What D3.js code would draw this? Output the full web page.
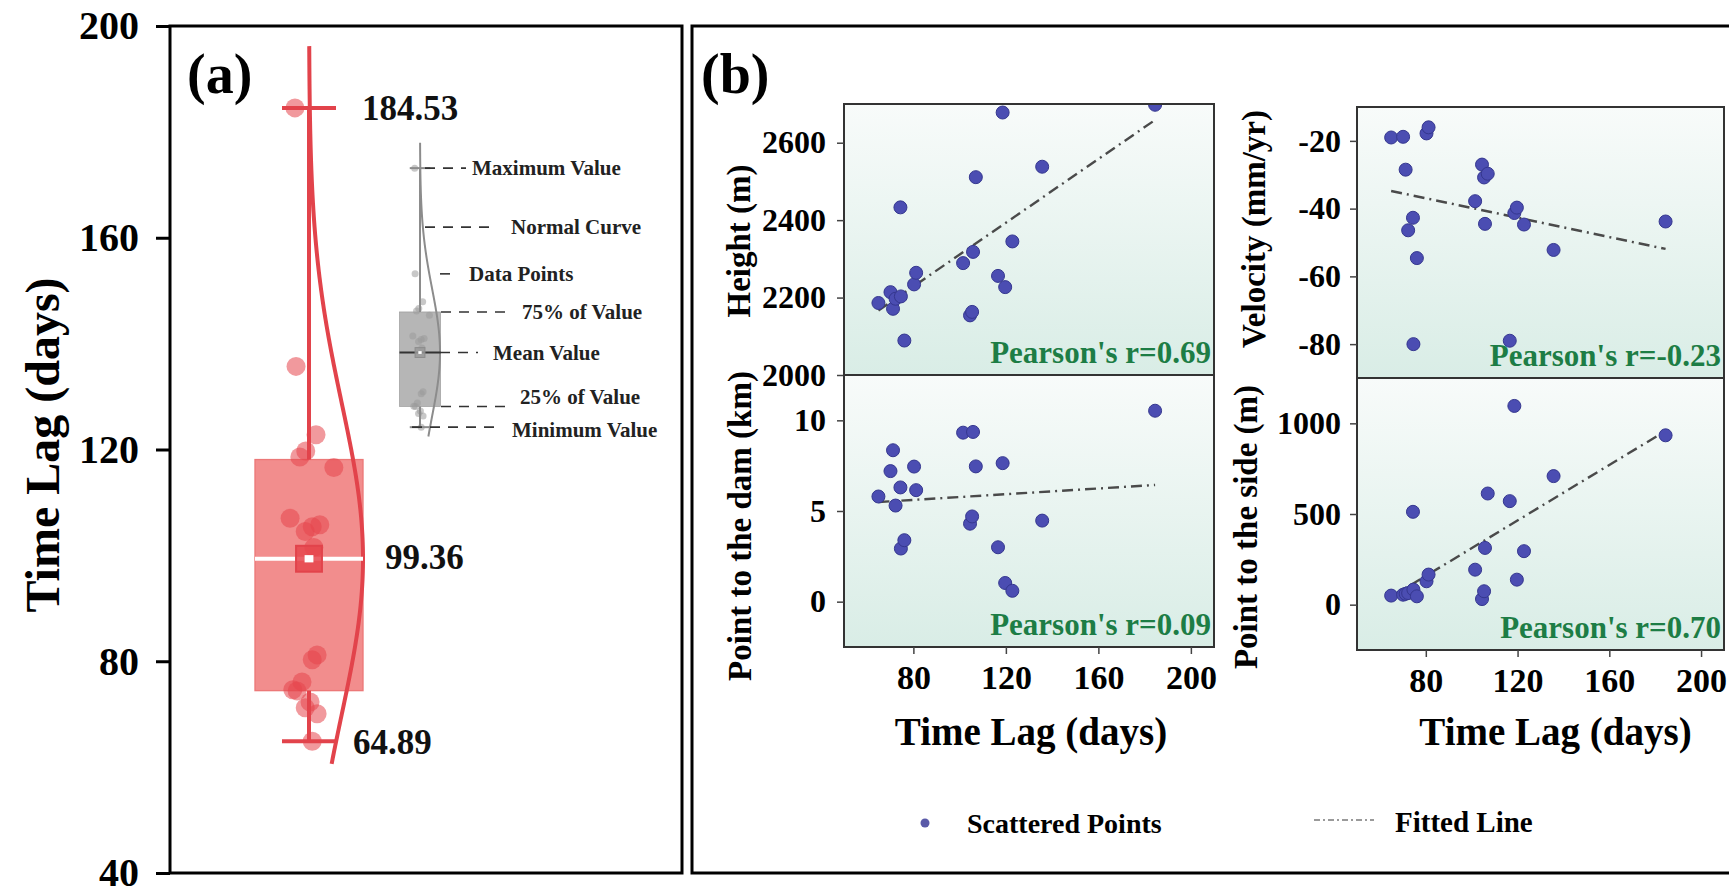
<!DOCTYPE html>
<html>
<head>
<meta charset="utf-8">
<script src="https://cdn.jsdelivr.net/npm/d3@7"></script>
<style>
  body { margin: 0; background: #fff; }
  svg text { font-family: "Liberation Serif", "Times New Roman", serif; font-weight: bold; }
</style>
</head>
<body>
<svg id="chart" width="1729" height="889"></svg>
<script>
// ---- data (20 monitoring points) ----
const timeLag  = [64.89, 70.1, 71.2, 72.3, 74.4, 74.6, 76.1, 80.3, 81.2, 101.5, 104.5, 105.4, 105.8, 107.0, 116.6, 118.6, 119.7, 122.8, 135.7, 184.53];
const heightM  = [2186, 2214, 2171, 2197, 2433, 2203, 2089, 2234, 2264, 2289, 2154, 2163, 2318, 2511, 2256, 2678, 2227, 2345, 2538, 2698];
const damKm    = [5.8, 7.2, 8.35, 5.3, 6.3, 2.93, 3.39, 7.45, 6.15, 9.32, 4.3, 4.7, 9.36, 7.46, 3.0, 7.64, 1.03, 0.6, 4.47, 10.53];
const velocity = [-19.0, -18.8, -28.5, -46.4, -42.7, -80.0, -54.6, -17.8, -16.0, -37.8, -27.0, -30.8, -44.5, -29.7, -79.0, -41.3, -39.7, -44.7, -52.2, -43.8];
const sideM    = [50, 55, 60, 64, 512, 83, 46, 129, 166, 193, 31, 74, 313, 613, 571, 1096, 138, 295, 709, 934];
// horizontal scatter of the raw points in the box plot, in box half-widths
const jitter   = [0.06, 0.15, -0.07, 0.02, -0.22, -0.30, -0.13, 0.06, 0.15, 0.09, -0.07, 0.06, 0.20, -0.35, 0.46, -0.17, -0.06, 0.13, -0.24, -0.26];
const curveRange = [60.6, 196.2];

const ticksA = [40, 80, 120, 160, 200];
const ticksX = [80, 120, 160, 200];
const xDomain = [50, 210];
const yTitles = ["Height (m)", "Point to the dam (km)", "Velocity (mm/yr)", "Point to the side (m)"];
const yDomains = [[2000, 2700], [-2.5, 12.5], [-90, -10], [-250, 1250]];
const yTicks = [[2000, 2200, 2400, 2600], [0, 5, 10], [-80, -60, -40, -20], [0, 500, 1000]];
const pearsonLabels = ["Pearson's r=0.69", "Pearson's r=0.09", "Pearson's r=-0.23", "Pearson's r=0.70"];
const insetLabels = ["Maximum Value", "Normal Curve", "Data Points", "75% of Value", "Mean Value", "25% of Value", "Minimum Value"];
const legendLabels = ["Scattered Points", "Fitted Line"];

const svg = d3.select("#chart");
const RED = "#e2434b";
const plain = d => String(d);   // no thousands comma, ascii minus

// ---------------- panel (a) ----------------
const fa = {x0: 170, y0: 26, x1: 682, y1: 873};
const yA = d3.scaleLinear().domain([40, 200]).range([fa.y1, fa.y0]);

function quart(arr, p) {           // (n+1)p rule, as Origin does
  const s = arr.slice().sort(d3.ascending);
  const h = (s.length + 1) * p - 1, lo = Math.floor(h);
  return s[lo] + (h - lo) * (s[lo + 1] - s[lo]);
}
const stats = {
  min: d3.min(timeLag), max: d3.max(timeLag), mean: d3.mean(timeLag),
  q1: quart(timeLag, 0.25), q3: quart(timeLag, 0.75), sd: d3.deviation(timeLag)
};

function drawBox(g, yS, o) {
  g.append("rect")
    .attr("x", o.cx - o.hw).attr("y", yS(stats.q3))
    .attr("width", 2 * o.hw).attr("height", yS(stats.q1) - yS(stats.q3))
    .attr("fill", o.fill).attr("stroke", o.edge).attr("stroke-width", o.lw / 3);
  g.selectAll("circle.pt").data(timeLag).enter().append("circle")
    .attr("class", "pt")
    .attr("cx", (d, i) => o.cx + jitter[i] * o.hw)
    .attr("cy", d => yS(d))
    .attr("r", o.r)
    .attr("fill", o.pt).attr("fill-opacity", 0.55);
  const seg = [[stats.max, stats.q3], [stats.q1, stats.min]];
  seg.forEach(s => g.append("line").attr("x1", o.cx).attr("x2", o.cx)
    .attr("y1", yS(s[0])).attr("y2", yS(s[1])).attr("stroke", o.line).attr("stroke-width", o.lw));
  [stats.max, stats.min].forEach(v => g.append("line")
    .attr("x1", o.cx - o.hw / 2).attr("x2", o.cx + o.hw / 2)
    .attr("y1", yS(v)).attr("y2", yS(v)).attr("stroke", o.line).attr("stroke-width", o.lw));
  // normal curve (half violin) from mean / sd of the data
  const pdf = v => Math.exp(-0.5 * ((v - stats.mean) / stats.sd) ** 2);
  const vs = d3.range(curveRange[0], curveRange[1], 0.5).concat([curveRange[1]]);
  g.append("path")
    .attr("d", d3.line().x(v => o.cx + o.bulge * pdf(v)).y(v => yS(v))(vs))
    .attr("fill", "none").attr("stroke", o.line).attr("stroke-width", o.lw);
  g.append("line").attr("x1", o.cx - o.hw).attr("x2", o.cx + o.hw)
    .attr("y1", yS(stats.mean)).attr("y2", yS(stats.mean))
    .attr("stroke", o.meanLine).attr("stroke-width", o.lw);
  const sq = o.hw * 0.48;
  g.append("rect").attr("x", o.cx - sq / 2).attr("y", yS(stats.mean) - sq / 2)
    .attr("width", sq).attr("height", sq)
    .attr("fill", o.pt).attr("fill-opacity", 0.85).attr("stroke", o.line).attr("stroke-width", o.lw / 2);
  g.append("rect").attr("x", o.cx - sq * 0.17).attr("y", yS(stats.mean) - sq * 0.14)
    .attr("width", sq * 0.34).attr("height", sq * 0.28).attr("fill", "#fff");
}

const gA = svg.append("g");
drawBox(gA, yA, {cx: 309, hw: 54, bulge: 54, r: 9.5, lw: 4,
  fill: "#f28d8d", edge: "#ec7878", pt: "#e6454c", line: RED, meanLine: "#fff"});

// value labels
[[stats.max, 362, 0], [stats.mean, 385, -2], [stats.min, 353, 1]].forEach(d => {
  gA.append("text").attr("x", d[1]).attr("y", yA(d[0]) + d[2]).attr("dy", "0.35em")
    .attr("font-size", 35).attr("fill", "#111").text(d[0].toFixed(2));
});

// inset explanation (same plot, shrunk, grey)
const yIn = d3.scaleLinear().domain(yA.domain()).range(yA.range().map(p => 124 + 0.409 * p));
const gIn = svg.append("g");
drawBox(gIn, yIn, {cx: 420, hw: 20.5, bulge: 20, r: 3.5, lw: 2,
  fill: "#b6b6b6", edge: "#999", pt: "#9a9a9a", line: "#8c8c8c", meanLine: "#333"});
const insetRows = [
  {v: stats.max, x0: 425, x1: 466, tx: 472, dy: 0},
  {v: 157.3, x0: 425, x1: 492, tx: 511, dy: 0},
  {v: 135.7, x0: 440, x1: 457, tx: 469, dy: 0},
  {v: stats.q3, x0: 441, x1: 508, tx: 522, dy: 0},
  {v: stats.mean, x0: 440, x1: 478, tx: 493, dy: 0},
  {v: stats.q1, x0: 441, x1: 507, tx: 520, dy: -10},
  {v: stats.min, x0: 412, x1: 497, tx: 512, dy: 2}
];
insetRows.forEach((r, i) => {
  gIn.append("line").attr("x1", r.x0).attr("x2", r.x1).attr("y1", yIn(r.v)).attr("y2", yIn(r.v))
    .attr("stroke", "#333").attr("stroke-width", 1.6).attr("stroke-dasharray", "10,8");
  gIn.append("text").attr("x", r.tx).attr("y", yIn(r.v) + r.dy).attr("dy", "0.35em")
    .attr("font-size", 21).attr("fill", "#222").text(insetLabels[i]);
});

// axis + frame
const axA = svg.append("g").attr("transform", `translate(${fa.x0},0)`)
  .call(d3.axisLeft(yA).tickValues(ticksA).tickFormat(plain).tickSize(14).tickPadding(17));
axA.select(".domain").remove();
axA.selectAll(".tick line").attr("stroke", "#000").attr("stroke-width", 3);
axA.selectAll(".tick text").attr("font-size", 40).attr("fill", "#000")
  .style("font-family", '"Liberation Serif", serif');
svg.append("rect").attr("x", fa.x0).attr("y", fa.y0)
  .attr("width", fa.x1 - fa.x0).attr("height", fa.y1 - fa.y0)
  .attr("fill", "none").attr("stroke", "#000").attr("stroke-width", 3);
svg.append("text").attr("transform", `translate(45,445) rotate(-90)`).attr("dy", "0.3em")
  .attr("text-anchor", "middle").attr("font-size", 48).text("Time Lag (days)");
svg.append("text").attr("x", 187).attr("y", 93).attr("font-size", 56).text("(a)");

// ---------------- panel (b) ----------------
svg.append("rect").attr("x", 692).attr("y", 26).attr("width", 1045).attr("height", 847)
  .attr("fill", "none").attr("stroke", "#000").attr("stroke-width", 3);
svg.append("text").attr("x", 701).attr("y", 93).attr("font-size", 56).text("(b)");

const defs = svg.append("defs");
const grad = defs.append("linearGradient").attr("id", "bg").attr("x1", 0).attr("x2", 0).attr("y1", 0).attr("y2", 1);
grad.append("stop").attr("offset", "0%").attr("stop-color", "#f8fbfa");
grad.append("stop").attr("offset", "100%").attr("stop-color", "#d9ede6");

const boxes = [
  {x0: 844, x1: 1214, y0: 104, y1: 375, tx: 741, ty: 241, pad: 11, xAxis: false},
  {x0: 844, x1: 1214, y0: 375, y1: 647, tx: 742, ty: 526, pad: 11, xAxis: true},
  {x0: 1357, x1: 1724, y0: 107, y1: 378, tx: 1256, ty: 229, pad: 9, xAxis: false},
  {x0: 1357, x1: 1724, y0: 378, y1: 650, tx: 1248, ty: 527, pad: 9, xAxis: true}
];
const series = [heightM, damKm, velocity, sideM];

function linFit(xs, ys) {
  const mx = d3.mean(xs), my = d3.mean(ys);
  const b = d3.sum(xs, (x, i) => (x - mx) * (ys[i] - my)) / d3.sum(xs, x => (x - mx) ** 2);
  return x => my + b * (x - mx);
}

boxes.forEach((b, k) => {
  const x = d3.scaleLinear().domain(xDomain).range([b.x0, b.x1]);
  const y = d3.scaleLinear().domain(yDomains[k]).range([b.y1, b.y0]);
  const g = svg.append("g");
  defs.append("clipPath").attr("id", "clip" + k).append("rect")
    .attr("x", b.x0).attr("y", b.y0).attr("width", b.x1 - b.x0).attr("height", b.y1 - b.y0);
  g.append("rect").attr("x", b.x0).attr("y", b.y0).attr("width", b.x1 - b.x0).attr("height", b.y1 - b.y0)
    .attr("fill", "url(#bg)");

  const f = linFit(timeLag, series[k]);
  const ext = d3.extent(timeLag);
  g.append("line").attr("x1", x(ext[0])).attr("x2", x(ext[1]))
    .attr("y1", y(f(ext[0]))).attr("y2", y(f(ext[1])))
    .attr("stroke", "#4a4a4a").attr("stroke-width", 2.4).attr("stroke-dasharray", "11,5,2,5");

  g.append("g").attr("clip-path", `url(#clip${k})`)
    .selectAll("circle").data(series[k]).enter().append("circle")
    .attr("cx", (d, i) => x(timeLag[i])).attr("cy", d => y(d)).attr("r", 6.5)
    .attr("fill", "#4b4db2").attr("stroke", "#35378f").attr("stroke-width", 1);

  g.append("text").attr("x", b.x1 - 3).attr("y", b.y1 - 12).attr("text-anchor", "end")
    .attr("font-size", 31).attr("fill", "#1d7d45").text(pearsonLabels[k]);

  g.append("rect").attr("x", b.x0).attr("y", b.y0).attr("width", b.x1 - b.x0).attr("height", b.y1 - b.y0)
    .attr("fill", "none").attr("stroke", "#333").attr("stroke-width", 2);

  const ay = g.append("g").attr("transform", `translate(${b.x0},0)`)
    .call(d3.axisLeft(y).tickValues(yTicks[k]).tickFormat(plain).tickSize(7).tickPadding(b.pad));
  ay.select(".domain").remove();
  ay.selectAll(".tick line").attr("stroke", "#444").attr("stroke-width", 1.5);
  ay.selectAll(".tick text").attr("font-size", 32).attr("fill", "#000")
    .style("font-family", '"Liberation Serif", serif');

  if (b.xAxis) {
    const ax = g.append("g").attr("transform", `translate(0,${b.y1})`)
      .call(d3.axisBottom(x).tickValues(ticksX).tickFormat(plain).tickSize(7).tickPadding(11));
    ax.select(".domain").remove();
    ax.selectAll(".tick line").attr("stroke", "#444").attr("stroke-width", 1.5);
    ax.selectAll(".tick text").attr("font-size", 34).attr("fill", "#000")
      .style("font-family", '"Liberation Serif", serif');
    g.append("text").attr("x", (b.x0 + b.x1) / 2 + (k === 3 ? 15 : 2)).attr("y", 745)
      .attr("text-anchor", "middle").attr("font-size", 39).text("Time Lag (days)");
  }

  g.append("text").attr("transform", `translate(${b.tx},${b.ty}) rotate(-90)`).attr("dy", "0.27em")
    .attr("text-anchor", "middle").attr("font-size", 33).text(yTitles[k]);
});

// legend
svg.append("circle").attr("cx", 925).attr("cy", 823).attr("r", 4.5).attr("fill", "#5a5aa8");
svg.append("text").attr("x", 967).attr("y", 833).attr("font-size", 28).text(legendLabels[0]);
svg.append("line").attr("x1", 1314).attr("x2", 1374).attr("y1", 820).attr("y2", 820)
  .attr("stroke", "#9a9a9a").attr("stroke-width", 1.8).attr("stroke-dasharray", "6,3,2,3");
svg.append("text").attr("x", 1395).attr("y", 832).attr("font-size", 29).text(legendLabels[1]);
</script>
</body>
</html>
